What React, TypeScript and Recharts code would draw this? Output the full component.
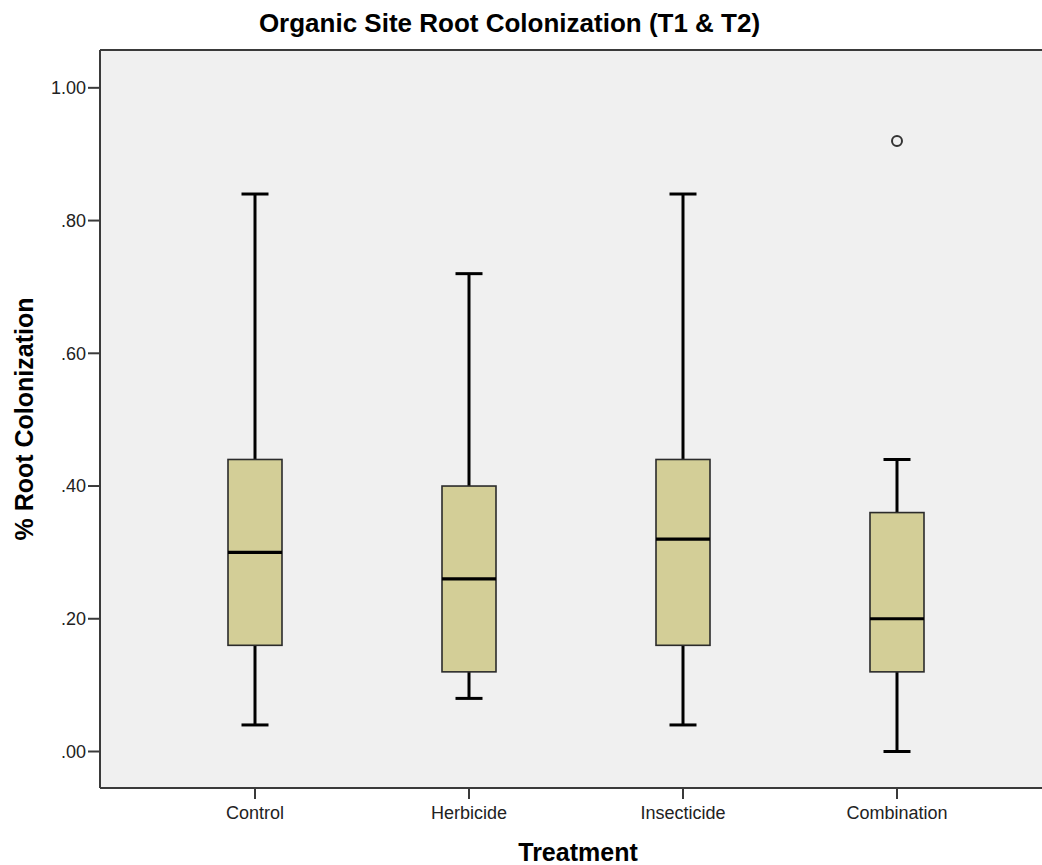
import React from "react";
import {
  ComposedChart,
  Bar,
  XAxis,
  YAxis,
  CartesianGrid,
  ReferenceLine,
  Label,
} from "recharts";

// Root colonization summaries per treatment (five-number summary + outliers)
const categories = ["Control", "Herbicide", "Insecticide", "Combination"];
const whiskerLow = [0.04, 0.08, 0.04, 0.0];
const quartile1 = [0.16, 0.12, 0.16, 0.12];
const medians = [0.3, 0.26, 0.32, 0.2];
const quartile3 = [0.44, 0.4, 0.44, 0.36];
const whiskerHigh = [0.84, 0.72, 0.84, 0.44];
const outliers: number[][] = [[], [], [], [0.92]];

const yTicks = [0, 0.2, 0.4, 0.6, 0.8, 1.0];
const Y_MIN = -0.055;
const Y_MAX = 1.057;

const FONT = '"Liberation Sans", Arial, sans-serif';
const BOX_FILL = "#D3CE97";
const PLOT_BG = "#F0F0F0";
const AXIS = "#3a3a3a";

const rows = categories.map((name, i) => ({
  name,
  low: whiskerLow[i],
  q1: quartile1[i],
  median: medians[i],
  q3: quartile3[i],
  high: whiskerHigh[i],
  outliers: outliers[i],
}));

const formatTick = (v: number) => {
  const s = v.toFixed(2);
  return s.startsWith("0") ? s.slice(1) : s;
};

// Draws one box-and-whisker glyph; the bar spans low..high whisker values,
// and every other level is placed with the same pixel-per-unit ratio.
function BoxShape(props: any) {
  const { x, y, width, height, payload } = props;
  const top = Math.min(y, y + height);
  const h = Math.abs(height);
  const span = payload.high - payload.low;
  const toY = (v: number) => top + ((payload.high - v) / span) * h;
  const cx = x + width / 2;
  const capHalf = width / 4;
  const yHigh = toY(payload.high);
  const yLow = toY(payload.low);
  const yQ3 = toY(payload.q3);
  const yQ1 = toY(payload.q1);
  const yMed = toY(payload.median);
  return (
    <g>
      <line x1={cx} x2={cx} y1={yHigh} y2={yQ3} stroke="#000" strokeWidth={3} />
      <line x1={cx} x2={cx} y1={yQ1} y2={yLow} stroke="#000" strokeWidth={3} />
      <line x1={cx - capHalf} x2={cx + capHalf} y1={yHigh} y2={yHigh} stroke="#000" strokeWidth={3} />
      <line x1={cx - capHalf} x2={cx + capHalf} y1={yLow} y2={yLow} stroke="#000" strokeWidth={3} />
      <rect
        x={x}
        y={yQ3}
        width={width}
        height={yQ1 - yQ3}
        fill={BOX_FILL}
        stroke="#2b2b2b"
        strokeWidth={1.6}
      />
      <line x1={x} x2={x + width} y1={yMed} y2={yMed} stroke="#000" strokeWidth={3.2} />
      {payload.outliers.map((o: number, k: number) => (
        <circle key={k} cx={cx} cy={toY(o)} r={5} fill="none" stroke="#333" strokeWidth={2} />
      ))}
    </g>
  );
}

export default function App() {
  return (
    <div
      style={{
        position: "absolute",
        left: 0,
        top: 0,
        width: 1042,
        height: 865,
        overflow: "hidden",
        background: "#fff",
        fontFamily: FONT,
      }}
    >
      <div
        style={{
          position: "absolute",
          left: 0,
          top: 10,
          width: 1019,
          textAlign: "center",
          fontSize: 26,
          lineHeight: "26px",
          fontWeight: "bold",
          color: "#000",
          fontFamily: FONT,
        }}
      >
        Organic Site Root Colonization (T1 &amp; T2)
      </div>
      <ComposedChart
        width={1060}
        height={865}
        data={rows}
        margin={{ top: 50, right: 8, bottom: 0, left: 0 }}
        style={{ position: "absolute", left: 0, top: 0 }}
      >
        <CartesianGrid horizontal={false} vertical={false} fill={PLOT_BG} />
        <ReferenceLine y={Y_MAX} stroke={AXIS} strokeWidth={2} />
        <XAxis
          dataKey="name"
          type="category"
          padding={{ left: 48, right: 48 }}
          height={77}
          tickSize={11}
          tickMargin={7}
          axisLine={{ stroke: AXIS, strokeWidth: 2 }}
          tickLine={{ stroke: AXIS, strokeWidth: 2 }}
          tick={{ fontSize: 18, fill: "#222", fontFamily: FONT }}
        >
          <Label
            value="Treatment"
            position="insideBottom"
            offset={4}
            dx={2}
            style={{ fontSize: 25, fontWeight: "bold", fill: "#000", fontFamily: FONT }}
          />
        </XAxis>
        <YAxis
          type="number"
          domain={[Y_MIN, Y_MAX]}
          allowDataOverflow
          ticks={yTicks}
          tickFormatter={formatTick}
          width={100}
          tickSize={12}
          tickMargin={2}
          axisLine={{ stroke: AXIS, strokeWidth: 2 }}
          tickLine={{ stroke: AXIS, strokeWidth: 2 }}
          tick={{ fontSize: 18, fill: "#222", fontFamily: FONT }}
        >
          <Label
            value="% Root Colonization"
            angle={-90}
            position="insideLeft"
            offset={24}
            style={{ fontSize: 25, fontWeight: "bold", fill: "#000", fontFamily: FONT, textAnchor: "middle" }}
          />
        </YAxis>
        <Bar
          dataKey={(d: any) => [d.low, d.high]}
          barSize={54}
          shape={<BoxShape />}
          isAnimationActive={false}
        />
      </ComposedChart>
    </div>
  );
}
